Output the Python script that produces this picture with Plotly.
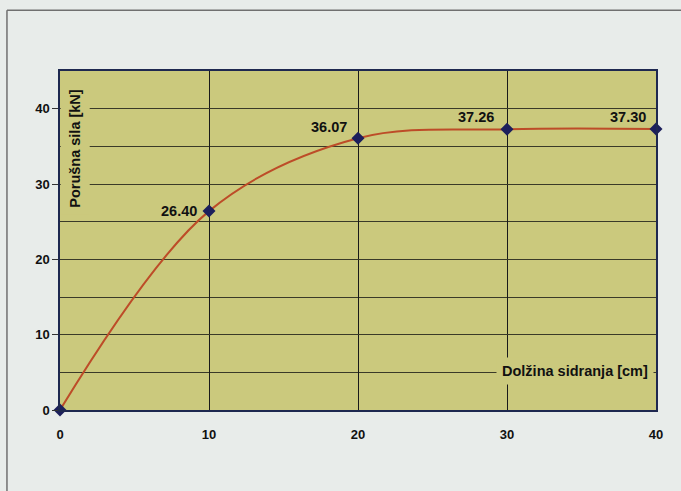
import plotly.graph_objects as go

# Data
lengths_cm = [0, 10, 20, 30, 40]
force_kN = [0, 26.40, 36.07, 37.26, 37.30]
point_labels = ["", "26.40", "36.07", "37.26", "37.30"]
x_ticks = [0, 10, 20, 30, 40]
y_ticks = [0, 10, 20, 30, 40]

# label offsets in pixels (style, not data)
label_xshift = [0, -10, -9, -11, -8]
label_yshift = [0, 0, 11, 12, 12]

plot_bg = "#cbc97d"
paper_bg = "#e8ecea"
font_family = "Liberation Sans, Arial, sans-serif"

fig = go.Figure()
fig.add_trace(go.Scatter(
    x=lengths_cm, y=force_kN,
    mode="lines+markers",
    line=dict(color="#bd4c28", width=2, shape="spline", smoothing=1.0),
    marker=dict(symbol="diamond", size=10, color="#1c1f5c"),
    cliponaxis=False,
    showlegend=False,
    hoverinfo="skip",
))

annotations = []
for x, y, t, dx, dy in zip(lengths_cm, force_kN, point_labels, label_xshift, label_yshift):
    if not t:
        continue
    annotations.append(dict(
        x=x, y=y, xref="x", yref="y", text=f"<b>{t}</b>", showarrow=False,
        xanchor="right", yanchor="middle", xshift=dx, yshift=dy,
        font=dict(family=font_family, size=14.5, color="#111111"),
    ))

annotations += [
    dict(text="<b>Porušna sila [kN]</b>", textangle=-90,
         xref="paper", yref="paper", x=0.026, y=0.772,
         xanchor="center", yanchor="middle",
         showarrow=False, font=dict(size=14.5, color="#111111"),
         bgcolor=plot_bg, borderpad=6),
    dict(text="<b>Dolžina sidranja [cm]</b>",
         xref="paper", yref="paper", x=0.996, y=0.115,
         xanchor="right", yanchor="middle", showarrow=False,
         font=dict(size=14.5, color="#111111"),
         bgcolor=plot_bg, borderpad=5),
]

fig.update_layout(
    width=681, height=491,
    margin=dict(l=60, r=25, t=71, b=81),
    paper_bgcolor=paper_bg,
    plot_bgcolor=plot_bg,
    font=dict(family=font_family, size=13, color="#111111"),
    xaxis=dict(
        range=[0, 40], tickvals=x_ticks, ticktext=[str(v) for v in x_ticks],
        showgrid=True, gridcolor="#1a1a1a", gridwidth=1,
        showline=True, linecolor="#1e2850", linewidth=1.5, mirror=True,
        zeroline=False, ticks="", ticklabelstandoff=12,
        tickfont=dict(family=font_family, size=13, color="#111111", weight="bold"),
    ),
    yaxis=dict(
        range=[0, 45], tickvals=y_ticks, ticktext=[str(v) for v in y_ticks],
        showgrid=True, gridcolor="#3a3a28", gridwidth=1,
        minor=dict(dtick=5, showgrid=True, gridcolor="#3a3a28", gridwidth=1),
        showline=True, linecolor="#1e2850", linewidth=1.5, mirror=True,
        zeroline=False, ticks="outside", ticklen=6, tickcolor="#333333",
        tickfont=dict(family=font_family, size=13, color="#111111", weight="bold"),
    ),
    annotations=annotations,
    shapes=[
        dict(type="line", xref="paper", yref="paper", x0=-0.089, x1=1.1,
             y0=1.179, y1=1.179, line=dict(color="#707070", width=1.5)),
        dict(type="line", xref="paper", yref="paper", x0=-0.089, x1=-0.089,
             y0=1.179, y1=-0.3, line=dict(color="#707070", width=1.5)),
    ],
)

fig.write_html("out.html", config={"displayModeBar": False},
               post_script="document.body.style.margin='0';")
